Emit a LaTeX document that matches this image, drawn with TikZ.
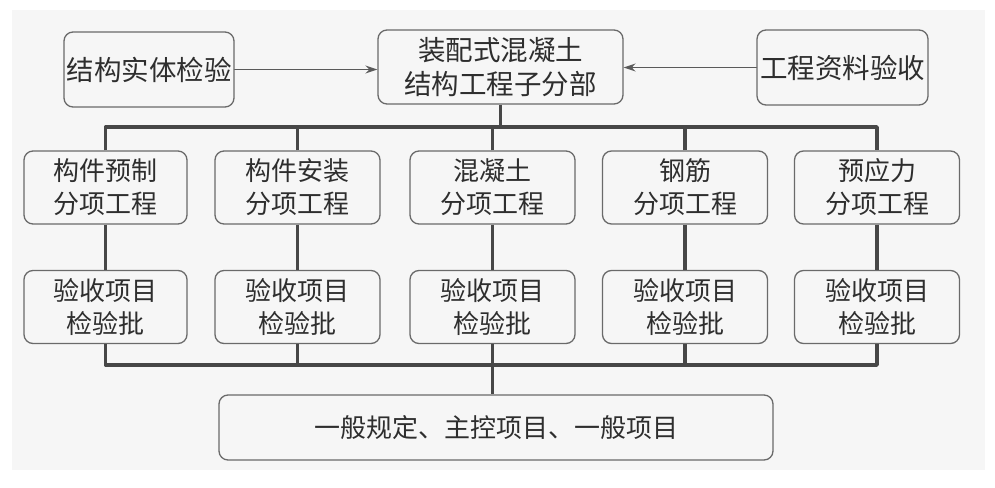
\documentclass[tikz,border=0pt]{standalone}
\usepackage{fontspec}
\setmainfont{Noto Sans CJK SC}
\usetikzlibrary{arrows.meta}

\definecolor{paper}{HTML}{F6F6F6}
\definecolor{frame}{HTML}{6A6A6A}
\definecolor{bus}{HTML}{474747}
\definecolor{ink}{HTML}{2E2E2E}

\begin{document}
\begin{tikzpicture}[
  x=1pt, y=-1pt,
  line cap=round, line join=round,
  every node/.style={font=\fontsize{26}{33}\selectfont, text=ink, inner sep=0pt},
  box/.style={draw=frame, line width=1.3pt, rounded corners=9pt, align=center, fill=paper},
  head/.style={box, font=\fontsize{27.5}{34}\selectfont},
  part/.style={box, minimum width=165pt, minimum height=73pt},
  link/.style={draw=frame!85!black, line width=1.5pt, -{Stealth[length=12pt, width=8pt]}},
  tree/.style={draw=bus, line width=3.6pt, line cap=butt},
]
\useasboundingbox (0,0) rectangle (995,487);
\fill[paper] (12,10) rectangle (985,470);

% top row
\node[head, minimum width=245pt, minimum height=74pt] (sub) at (500.5,67) {装配式混凝土\\结构工程子分部};
\node[head, minimum width=170pt, minimum height=75pt] (solid) at (149,69.5) {结构实体检验};
\node[head, minimum width=171pt, minimum height=75pt] (docs) at (842.5,67.5) {工程资料验收};
\draw[link] (solid.east) -- (sub.west |- solid.east);
\draw[link] (docs.west) -- (sub.east |- docs.west);

% sub-item works
\node[part, minimum width=163pt] (p1) at (105.5,187.5) {构件预制\\分项工程};
\node[part] (p2) at (297.5,187.5) {构件安装\\分项工程};
\node[part] (p3) at (492.5,187.5) {混凝土\\分项工程};
\node[part] (p4) at (685,187.5) {钢筋\\分项工程};
\node[part] (p5) at (877,187.5) {预应力\\分项工程};

% inspection lots
\node[part, minimum width=163pt] (q1) at (105.5,307) {验收项目\\检验批};
\node[part] (q2) at (297.5,307) {验收项目\\检验批};
\node[part] (q3) at (492.5,307) {验收项目\\检验批};
\node[part] (q4) at (685,307) {验收项目\\检验批};
\node[part] (q5) at (877,307) {验收项目\\检验批};

\node[box, minimum width=554pt, minimum height=65pt] (rules) at (496,427.5) {一般规定、主控项目、一般项目};

% upper bus
\coordinate (upbus) at (0,127);
\draw[tree] (sub.south) -- (sub.south |- upbus);
\draw[tree] (p1.north) |- (p5.north |- upbus) -- (p5.north);
\draw[tree] (p2.north) -- (p2.north |- upbus);
\draw[tree] (p3.north) -- (p3.north |- upbus);
\draw[tree] (p4.north) -- (p4.north |- upbus);

% columns
\draw[tree] (p1.south) -- (q1.north);
\draw[tree] (p2.south) -- (q2.north);
\draw[tree] (p3.south) -- (q3.north);
\draw[tree] (p4.south) -- (q4.north);
\draw[tree] (p5.south) -- (q5.north);

% lower bus
\coordinate (lowbus) at (0,365);
\draw[tree] (q1.south) |- (q5.south |- lowbus) -- (q5.south);
\draw[tree] (q2.south) -- (q2.south |- lowbus);
\draw[tree] (q4.south) -- (q4.south |- lowbus);
\draw[tree] (q3.south) -- (q3.south |- rules.north);
\end{tikzpicture}
\end{document}
